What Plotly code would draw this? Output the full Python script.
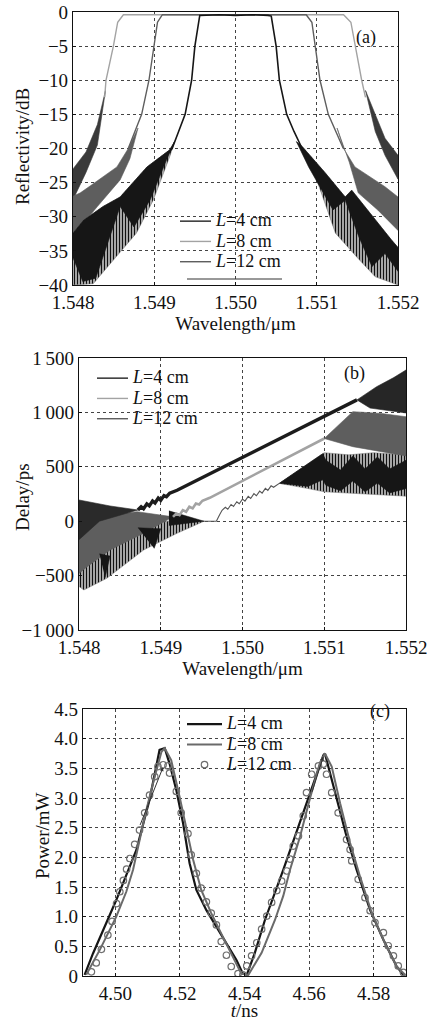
import plotly.graph_objects as go

FONT = "Liberation Serif"

# ---------------- Panel (a): reflectivity (dB) vs wavelength (um) ----------------
# L=4 cm (narrow band, black)
a4_line_wl = [1.54915, 1.54922, 1.54930, 1.54938, 1.54946, 1.54950, 1.54956, 1.54980, 1.55000,
              1.55020, 1.55040, 1.55044, 1.55050, 1.55054, 1.55063, 1.55072, 1.55082]
a4_line_db = [-21.0, -20.0, -17.5, -15.0, -10.0, -5.0, -0.5, -0.4, -0.5,
              -0.4, -0.5, -0.6, -5.0, -10.0, -15.0, -17.5, -20.0]
a4_blkL_up_wl = [1.54800, 1.54813, 1.54837, 1.54858, 1.54891, 1.54919, 1.54925]
a4_blkL_up_db = [-32.4, -30.5, -28.5, -27.1, -22.7, -20.2, -19.0]
a4_blkL_lo_wl = [1.54800, 1.54812, 1.54828, 1.54845, 1.54858, 1.54875, 1.54895, 1.54915, 1.54925]
a4_blkL_lo_db = [-36.0, -39.5, -39.0, -33.0, -28.5, -31.5, -27.5, -21.7, -19.0]
a4_strL_lo_wl = [1.54800, 1.54825, 1.54850, 1.54878, 1.54899, 1.54919, 1.54925]
a4_strL_lo_db = [-40.0, -39.8, -36.3, -32.4, -27.5, -21.2, -19.0]
a4_blkR_up_wl = [1.55075, 1.55082, 1.55110, 1.55135, 1.55143, 1.55172, 1.55192, 1.55200]
a4_blkR_up_db = [-19.0, -19.7, -23.5, -27.1, -26.1, -30.5, -33.4, -34.5]
a4_blkR_lo_wl = [1.55075, 1.55090, 1.55120, 1.55135, 1.55152, 1.55168, 1.55184, 1.55200]
a4_blkR_lo_db = [-19.0, -22.7, -29.0, -27.6, -33.0, -37.3, -35.4, -38.0]
a4_strR_lo_wl = [1.55075, 1.55090, 1.55123, 1.55150, 1.55172, 1.55200]
a4_strR_lo_db = [-19.0, -21.2, -32.4, -36.0, -38.8, -40.0]

# L=12 cm (middle band, mid grey)
a12_line_wl = [1.54868, 1.548845, 1.548935, 1.54900, 1.54904, 1.54910, 1.55000,
               1.55087, 1.55094, 1.550978, 1.55104, 1.551142, 1.551327]
a12_line_db = [-20.0, -15.0, -10.0, -5.0, -1.5, -0.4, -0.4, -0.4, -1.5, -5.0, -10.0, -15.0, -20.0]
a12_bandL_up_wl = [1.54800, 1.54809, 1.54821, 1.54854, 1.54868, 1.54880]
a12_bandL_up_db = [-27.0, -26.5, -25.5, -22.7, -20.0, -17.0]
a12_bandL_lo_wl = [1.54800, 1.54809, 1.54830, 1.54858, 1.54870, 1.54880]
a12_bandL_lo_db = [-32.5, -31.5, -28.5, -24.6, -21.5, -17.0]
a12_bandR_up_wl = [1.55125, 1.55133, 1.55147, 1.55184, 1.55200]
a12_bandR_up_db = [-17.0, -20.0, -22.7, -25.6, -27.1]
a12_bandR_lo_wl = [1.55125, 1.55140, 1.55151, 1.55175, 1.55200]
a12_bandR_lo_db = [-17.0, -22.0, -26.5, -29.0, -32.0]

# L=8 cm (widest band, light grey edge with dark noisy skirts)
a8_line_wl = [1.548390, 1.548406, 1.548497, 1.54855, 1.54862, 1.55000,
              1.55133, 1.55142, 1.551471, 1.551553, 1.55160]
a8_line_db = [-12.5, -10.0, -5.0, -1.5, -0.4, -0.4, -0.4, -1.5, -5.0, -10.0, -12.5]
a8_bandL_up_wl = [1.54800, 1.54816, 1.54830, 1.54840]
a8_bandL_up_db = [-23.0, -20.5, -16.5, -11.5]
a8_bandL_lo_wl = [1.54800, 1.54816, 1.54830, 1.54840]
a8_bandL_lo_db = [-27.5, -23.5, -19.5, -11.5]
a8_bandR_up_wl = [1.55160, 1.55170, 1.55184, 1.55200]
a8_bandR_up_db = [-11.5, -14.5, -18.5, -21.0]
a8_bandR_lo_wl = [1.55160, 1.55172, 1.55184, 1.55200]
a8_bandR_lo_db = [-11.5, -17.5, -21.0, -24.5]

# ---------------- Panel (b): delay (ps) vs wavelength (um) ----------------
b_top_line_wl = [1.54872, 1.54876, 1.54879, 1.54883, 1.54886, 1.54890, 1.54893, 1.54897,
                 1.54900, 1.54904, 1.54907, 1.54911, 1.54920, 1.55000, 1.55140]
b_top_line_ps = [103, 133, 114, 159, 141, 186, 167, 212, 193, 235, 225, 258, 284, 585, 1115]
b_top_R_up_wl = [1.55140, 1.55164, 1.55185, 1.55200]
b_top_R_up_ps = [1115, 1236, 1320, 1390]
b_top_R_lo_wl = [1.55140, 1.55156, 1.55200]
b_top_R_lo_ps = [1115, 1040, 995]
b_top_L_up_wl = [1.54800, 1.54838, 1.54872]
b_top_L_up_ps = [195, 140, 103]
b_top_L_lo_wl = [1.54800, 1.54825, 1.54872]
b_top_L_lo_ps = [-170, 0, 103]

b_mid_line_wl = [1.54915, 1.54919, 1.54923, 1.54927, 1.54931, 1.54935, 1.54939, 1.54943,
                 1.54947, 1.54951, 1.54960, 1.55100]
b_mid_line_ps = [40, 71, 56, 102, 87, 133, 118, 162, 154, 188, 215, 760]
b_mid_R_up_wl = [1.55100, 1.55135, 1.55170, 1.55200]
b_mid_R_up_ps = [760, 1007, 990, 960]
b_mid_R_lo_wl = [1.55100, 1.55135, 1.55200]
b_mid_R_lo_ps = [760, 685, 600]
b_mid_L_up_wl = [1.54800, 1.54822, 1.54871, 1.54915]
b_mid_L_up_ps = [-20, 41, 87, 40]
b_mid_L_lo_wl = [1.54800, 1.54810, 1.54838, 1.54879, 1.54915]
b_mid_L_lo_ps = [-480, -418, -265, -111, 40]

b_bot_line_wl = [1.54953, 1.54968, 1.54972, 1.54975, 1.54979, 1.54982, 1.54986, 1.54989,
                 1.54993, 1.54996, 1.55000, 1.55003, 1.55007, 1.55010, 1.55014, 1.55017,
                 1.55021, 1.55024, 1.55028, 1.55031, 1.55035, 1.55038, 1.55045]
b_bot_line_ps = [0, 0, 60, 100, 128, 110, 154, 135, 179, 160, 203, 184, 228, 209, 253, 234,
                 277, 258, 302, 283, 325, 312, 348]
b_bot_strL_up_wl = [1.54800, 1.54840, 1.54880, 1.54920, 1.54953]
b_bot_strL_up_ps = [-200, -150, -50, 20, 0]
b_bot_strL_lo_wl = [1.54800, 1.54806, 1.54834, 1.54879, 1.54920, 1.54953]
b_bot_strL_lo_ps = [-600, -632, -525, -265, -111, 0]
b_bot_blk1_wl = [1.54910, 1.54953, 1.54910]
b_bot_blk1_ps = [95, 0, -40]
b_bot_blk2_wl = [1.54872, 1.54900, 1.54892]
b_bot_blk2_ps = [-60, -70, -250]
b_bot_blk3_wl = [1.54825, 1.54838, 1.54832]
b_bot_blk3_ps = [-300, -320, -520]
b_bot_strR_up_wl = [1.55045, 1.55100, 1.55130, 1.55160, 1.55200]
b_bot_strR_up_ps = [348, 630, 610, 630, 610]
b_bot_strR_lo_wl = [1.55045, 1.55080, 1.55100, 1.55150, 1.55200]
b_bot_strR_lo_ps = [348, 300, 270, 250, 230]
b_bot_blkR_up_wl = [1.55045, 1.55098, 1.55102, 1.55120, 1.55135, 1.55150, 1.55165, 1.55180, 1.55200]
b_bot_blkR_up_ps = [348, 620, 560, 470, 600, 480, 590, 480, 560]
b_bot_blkR_lo_wl = [1.55045, 1.55080, 1.55098, 1.55102, 1.55120, 1.55135, 1.55150, 1.55165, 1.55180, 1.55200]
b_bot_blkR_lo_ps = [348, 320, 380, 330, 280, 370, 270, 350, 260, 300]

# ---------------- Panel (c): power (mW) vs time (ns) ----------------
c4_t = [4.4905, 4.4931, 4.5003, 4.5065, 4.5106, 4.5137, 4.5153, 4.5168, 4.5189, 4.5210, 4.5230,
        4.5251, 4.5282, 4.5313, 4.5344, 4.5375, 4.5395, 4.5407, 4.5432, 4.5463, 4.5520, 4.5556,
        4.5644, 4.5649, 4.5685, 4.5716, 4.5747, 4.5789, 4.5830, 4.5871, 4.5892]
c4_p = [0.02, 0.38, 1.28, 2.12, 2.97, 3.81, 3.84, 3.58, 3.13, 2.57, 1.90,
        1.45, 1.11, 0.83, 0.55, 0.27, 0.04, 0.02, 0.39, 0.94, 1.79, 2.35,
        3.72, 3.75, 3.02, 2.35, 1.79, 1.11, 0.61, 0.16, 0.02]
c8_t = [4.4910, 4.4952, 4.5003, 4.5034, 4.5055, 4.5075, 4.5096, 4.5122, 4.5143, 4.5153, 4.5173,
        4.5199, 4.5220, 4.5241, 4.5266, 4.5297, 4.5333, 4.5364, 4.5390, 4.5412, 4.5453, 4.5494,
        4.5520, 4.5541, 4.5572, 4.5603, 4.5634, 4.5649, 4.5670, 4.5696, 4.5727, 4.5758, 4.5794,
        4.5835, 4.5871, 4.5897]
c8_p = [0.02, 0.44, 1.00, 1.42, 1.79, 2.29, 2.80, 3.36, 3.78, 3.84, 3.64,
        3.02, 2.46, 1.96, 1.45, 1.06, 0.66, 0.33, 0.04, 0.02, 0.39, 0.94,
        1.35, 1.79, 2.35, 3.00, 3.60, 3.75, 3.53, 2.91, 2.24, 1.67, 1.06,
        0.55, 0.16, 0.02]
c12_t = [4.4926, 4.4941, 4.4957, 4.4977, 4.4990, 4.5004, 4.5014, 4.5025, 4.5035, 4.5045, 4.5060,
         4.5075, 4.5091, 4.5106, 4.5122, 4.5132, 4.5148, 4.5163, 4.5168, 4.5189, 4.5204, 4.5225,
         4.5235, 4.5251, 4.5266, 4.5282, 4.5297, 4.5313, 4.5328, 4.5344, 4.5359, 4.5380, 4.5395,
         4.5407, 4.5422, 4.5438, 4.5453, 4.5469, 4.5484, 4.5500, 4.5515, 4.5531, 4.5541, 4.5551,
         4.5567, 4.5582, 4.5592, 4.5608, 4.5629, 4.5644, 4.5654, 4.5670, 4.5690, 4.5716, 4.5727,
         4.5732, 4.5752, 4.5773, 4.5789, 4.5804, 4.5830, 4.5845, 4.5861, 4.5876, 4.5892]
c12_p = [0.07, 0.22, 0.45, 0.69, 0.92, 1.22, 1.42, 1.61, 1.80, 1.98, 2.22,
         2.46, 2.75, 3.05, 3.36, 3.53, 3.56, 3.54, 3.42, 3.11, 2.75, 2.40,
         2.04, 1.73, 1.48, 1.25, 1.06, 0.86, 0.58, 0.35, 0.16, 0.04, 0.02,
         0.17, 0.34, 0.56, 0.79, 1.01, 1.24, 1.44, 1.60, 1.77, 1.97, 2.19,
         2.36, 2.70, 3.09, 3.40, 3.54, 3.57, 3.40, 3.09, 2.75, 2.30, 2.13,
         1.94, 1.63, 1.32, 1.10, 0.90, 0.73, 0.51, 0.34, 0.17, 0.06]

legend_labels = ["<i>L</i>=4 cm", "<i>L</i>=8 cm", "<i>L</i>=12 cm"]
legend_names = ['<span style="font-size:18px">%s</span>' % s for s in legend_labels]

# tick definitions
a_xticks = [1.548, 1.549, 1.550, 1.551, 1.552]
a_xticktext = ["1.548", "1.549", "1.550", "1.551", "1.552"]
a_yticks = [0, -5, -10, -15, -20, -25, -30, -35, -40]
b_yticks = [1500, 1000, 500, 0, -500, -1000]
b_yticktext = ["1\u2009500", "1\u2009000", "500", "0", "\u2212500", "\u22121\u2009000"]
c_xticks = [4.50, 4.52, 4.54, 4.56, 4.58]
c_xticktext = ["4.50", "4.52", "4.54", "4.56", "4.58"]
c_yticks = [0, 0.5, 1.0, 1.5, 2.0, 2.5, 3.0, 3.5, 4.0, 4.5]
c_yticktext = ["0", "0.5", "1.0", "1.5", "2.0", "2.5", "3.0", "3.5", "4.0", "4.5"]

# ---------------------------------------------------------------------------
fig = go.Figure()

C_BLACK = "#161616"
C_DARK = "#3a3a3a"
C_MID = "#5e5e5e"
C_LIGHT = "#a3a3a3"


def band(up_x, up_y, lo_x, lo_y, color, xa, ya, pattern=None, lw=0.6):
    xs = list(up_x) + list(lo_x)[::-1]
    ys = list(up_y) + list(lo_y)[::-1]
    kw = dict(x=xs, y=ys, fill="toself", mode="lines", line=dict(color=color, width=lw),
              fillcolor=color, showlegend=False, hoverinfo="skip", xaxis=xa, yaxis=ya)
    if pattern is not None:
        kw["fillpattern"] = pattern
        kw["fillcolor"] = None
    fig.add_trace(go.Scatter(**kw))


def line(x, y, color, width, xa, ya):
    fig.add_trace(go.Scatter(x=x, y=y, mode="lines", line=dict(color=color, width=width),
                             showlegend=False, hoverinfo="skip", xaxis=xa, yaxis=ya))


STRIPE = dict(shape="|", fgcolor="#111111", bgcolor="#c4c4c4", size=3, solidity=0.45, fillmode="replace")

# ---- panel (a)
band(a8_bandL_up_wl, a8_bandL_up_db, a8_bandL_lo_wl, a8_bandL_lo_db, C_DARK, "x", "y")
band(a8_bandR_up_wl, a8_bandR_up_db, a8_bandR_lo_wl, a8_bandR_lo_db, C_DARK, "x", "y")
band(a12_bandL_up_wl, a12_bandL_up_db, a12_bandL_lo_wl, a12_bandL_lo_db, C_MID, "x", "y")
band(a12_bandR_up_wl, a12_bandR_up_db, a12_bandR_lo_wl, a12_bandR_lo_db, C_MID, "x", "y")
band(a4_blkL_up_wl, a4_blkL_up_db, a4_strL_lo_wl, a4_strL_lo_db, "#777", "x", "y", pattern=STRIPE, lw=0.5)
band(a4_blkR_up_wl, a4_blkR_up_db, a4_strR_lo_wl, a4_strR_lo_db, "#777", "x", "y", pattern=STRIPE, lw=0.5)
band(a4_blkL_up_wl, a4_blkL_up_db, a4_blkL_lo_wl, a4_blkL_lo_db, C_BLACK, "x", "y")
band(a4_blkR_up_wl, a4_blkR_up_db, a4_blkR_lo_wl, a4_blkR_lo_db, C_BLACK, "x", "y")
line(a8_line_wl, a8_line_db, C_LIGHT, 1.4, "x", "y")
line(a12_line_wl, a12_line_db, C_MID, 1.4, "x", "y")
line(a4_line_wl, a4_line_db, C_BLACK, 1.6, "x", "y")

# ---- panel (b)
band(b_bot_strL_up_wl, b_bot_strL_up_ps, b_bot_strL_lo_wl, b_bot_strL_lo_ps, "#777", "x2", "y2", pattern=STRIPE, lw=0.5)
band(b_bot_strR_up_wl, b_bot_strR_up_ps, b_bot_strR_lo_wl, b_bot_strR_lo_ps, "#777", "x2", "y2", pattern=STRIPE, lw=0.5)
band(b_mid_L_up_wl, b_mid_L_up_ps, b_mid_L_lo_wl, b_mid_L_lo_ps, C_MID, "x2", "y2")
band(b_mid_R_up_wl, b_mid_R_up_ps, b_mid_R_lo_wl, b_mid_R_lo_ps, C_MID, "x2", "y2")
band(b_top_L_up_wl, b_top_L_up_ps, b_top_L_lo_wl, b_top_L_lo_ps, "#2a2a2a", "x2", "y2")
band(b_top_R_up_wl, b_top_R_up_ps, b_top_R_lo_wl, b_top_R_lo_ps, "#262626", "x2", "y2")
band(b_bot_blkR_up_wl, b_bot_blkR_up_ps, b_bot_blkR_lo_wl, b_bot_blkR_lo_ps, C_BLACK, "x2", "y2")
for bx, by in [(b_bot_blk1_wl, b_bot_blk1_ps), (b_bot_blk2_wl, b_bot_blk2_ps), (b_bot_blk3_wl, b_bot_blk3_ps)]:
    fig.add_trace(go.Scatter(x=bx, y=by, fill="toself", mode="lines", line=dict(color=C_BLACK, width=0.5),
                             fillcolor=C_BLACK, showlegend=False, hoverinfo="skip", xaxis="x2", yaxis="y2"))
line(b_bot_line_wl, b_bot_line_ps, "#555555", 1.1, "x2", "y2")
line(b_mid_line_wl, b_mid_line_ps, C_LIGHT, 2.6, "x2", "y2")
line(b_top_line_wl, b_top_line_ps, "#1c1c1c", 3.4, "x2", "y2")

# ---- panel (c)
fig.add_trace(go.Scatter(x=c4_t, y=c4_p, mode="lines", name=legend_names[0],
                         line=dict(color="#151515", width=2.2), xaxis="x3", yaxis="y3", legend="legend3"))
fig.add_trace(go.Scatter(x=c8_t, y=c8_p, mode="lines", name=legend_names[1],
                         line=dict(color="#6a6a6a", width=2.0), xaxis="x3", yaxis="y3", legend="legend3"))
fig.add_trace(go.Scatter(x=c12_t, y=c12_p, mode="markers", name=legend_names[2],
                         marker=dict(symbol="circle-open", size=6.5, color="#6f6f6f", line=dict(width=1.2)),
                         xaxis="x3", yaxis="y3", legend="legend3"))

# legend entries for (a) and (b)
for leg, xa, ya in [("legend", "x", "y"), ("legend2", "x2", "y2")]:
    for nm, col in zip(legend_names, ["#222222", C_LIGHT, C_MID]):
        fig.add_trace(go.Scatter(x=[None], y=[None], mode="lines", name=nm,
                                 line=dict(color=col, width=1.4), xaxis=xa, yaxis=ya, legend=leg))

W, H = 427, 1021


def dom_x(l, r):
    return [l / W, r / W]


def dom_y(top, bot):
    return [1 - bot / H, 1 - top / H]


TICKF = dict(family=FONT, size=19, color="#111")
TITLEF = dict(family=FONT, size=19, color="#111")
common = dict(showline=True, linecolor="#111", linewidth=1.2, mirror=True, ticks="inside",
              ticklen=3, tickcolor="#111", showgrid=True, gridcolor="#444", griddash="dot",
              gridwidth=1, zeroline=False, tickfont=TICKF, automargin=True)
xcommon = dict(common, ticklabeloverflow="allow")

LEGF = dict(family=FONT, size=13.3, color="#111")

fig.update_layout(
    width=W, height=H, margin=dict(l=0, r=0, t=0, b=0, autoexpand=False), paper_bgcolor="white",
    plot_bgcolor="white", template="none",
    xaxis=dict(domain=dom_x(73, 398), range=[1.548, 1.552], tickvals=a_xticks, ticktext=a_xticktext,
               title=dict(text="Wavelength/μm", font=TITLEF, standoff=0), anchor="y", **xcommon),
    yaxis=dict(domain=dom_y(12, 285), range=[-40, 0], tickvals=a_yticks, anchor="x", **common),
    xaxis2=dict(domain=dom_x(79, 406), range=[1.548, 1.552], tickvals=a_xticks, ticktext=a_xticktext,
                title=dict(text="Wavelength/μm", font=TITLEF, standoff=1), anchor="y2", **xcommon),
    yaxis2=dict(domain=dom_y(358, 630), range=[-1000, 1500], tickvals=b_yticks, ticktext=b_yticktext,
                anchor="x2", **common),
    xaxis3=dict(domain=dom_x(83, 406), range=[4.49, 4.59], tickvals=c_xticks, ticktext=c_xticktext,
                title=dict(text="<i>t</i>/ns", font=TITLEF, standoff=1), anchor="y3", **xcommon),
    yaxis3=dict(domain=dom_y(709, 976), range=[0, 4.5], tickvals=c_yticks, ticktext=c_yticktext,
                anchor="x3", **common),
    legend=dict(x=175 / W, y=1 - 206 / H, xanchor="left", yanchor="top", bgcolor="rgba(0,0,0,0)",
                font=LEGF, tracegroupgap=0, itemwidth=31),
    legend2=dict(x=92 / W, y=1 - 363 / H, xanchor="left", yanchor="top", bgcolor="rgba(0,0,0,0)",
                 font=LEGF, tracegroupgap=0, itemwidth=31),
    legend3=dict(x=182 / W, y=1 - 709 / H, xanchor="left", yanchor="top", bgcolor="rgba(0,0,0,0)",
                 font=LEGF, tracegroupgap=0, itemwidth=35),
    showlegend=True,
)

# y-axis titles (placed as in the original)
for txt, px, py in [("Reflectivity/dB", 22, 147), ("Delay/ps", 23, 497), ("Power/mW", 42, 836)]:
    fig.add_annotation(text=txt, x=px / W, y=1 - py / H, xref="paper", yref="paper", showarrow=False,
                       textangle=-90, xanchor="center", yanchor="middle", font=TITLEF)

# white areas behind the legends (the grid is hidden there in the original)
for x0, x1, y0, y1 in [(177, 288, 208, 279), (93, 208, 359, 428), (187, 300, 710, 776)]:
    fig.add_shape(type="rect", xref="paper", yref="paper", x0=x0 / W, x1=x1 / W, y0=1 - y1 / H, y1=1 - y0 / H,
                  line=dict(width=0), fillcolor="white", layer="between")

# panel labels
for txt, px, py in [("(a)", 378, 25), ("(b)", 367, 373), ("(c)", 392, 724)]:
    fig.add_annotation(text=txt, x=px / W, y=1 - py / H, xref="paper", yref="paper", showarrow=False,
                       font=dict(family=FONT, size=18, color="#111"))

# arrows in (c)
fig.add_annotation(x=4.5148, y=3.52, ax=4.5075, ay=2.52, xref="x3", yref="y3", axref="x3", ayref="y3",
                   showarrow=True, arrowhead=2, arrowsize=0.8, arrowwidth=1, arrowcolor="#333", text="")
fig.add_annotation(x=4.5644, y=3.70, ax=4.5608, ay=3.08, xref="x3", yref="y3", axref="x3", ayref="y3",
                   showarrow=True, arrowhead=2, arrowsize=0.8, arrowwidth=1, arrowcolor="#333", text="")

# underline below the legend in (a)
fig.add_shape(type="line", xref="paper", yref="paper", x0=187 / W, x1=282 / W, y0=1 - 279 / H, y1=1 - 279 / H,
              line=dict(color="#333", width=1))

fig.write_html("out.html", config={"displayModeBar": False},
               post_script="document.body.style.margin='0px';")
